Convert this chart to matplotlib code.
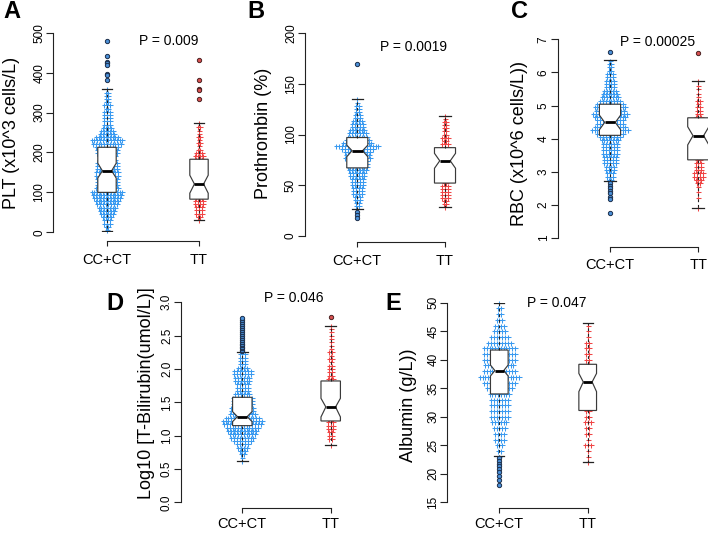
import matplotlib
matplotlib.use('Agg')
import matplotlib.pyplot as plt
import numpy as np

plt.rcParams['font.family'] = ['Liberation Sans', 'DejaVu Sans']

# ---------------- DATA ----------------
groups = ['CC+CT', 'TT']

# Panel A: PLT
A_ylabel = 'PLT (x10^3 cells/L)'
A_p = 'P = 0.009'
A_ticks = [0, 100, 200, 300, 400, 500]
A_ticklabels = ['0', '100', '200', '300', '400', '500']
A_rows_cc = [6, 14, 22, 30, 38, 46, 54, 62, 70, 78, 86, 94, 102, 110, 118, 126, 134, 142, 150, 158,
             166, 174, 182, 190, 198, 206, 214, 222, 230, 238, 246, 254, 262, 270, 278, 286, 294, 302,
             310, 318, 326, 334, 342, 350, 358]
A_cnt_cc = [1, 2, 3, 3, 4, 5, 6, 7, 8, 9, 10, 11, 12, 9, 8, 8, 8, 9, 9, 8,
            8, 8, 7, 7, 8, 8, 9, 11, 12, 9, 6, 5, 4, 3, 3, 3, 3, 3,
            2, 3, 2, 2, 2, 2, 1]
A_rows_tt = [31, 39, 47, 55, 63, 71, 79, 87, 95, 103, 111, 119, 127, 135, 143, 151, 159, 167, 175, 183,
             191, 199, 207, 215, 223, 231, 239, 247, 255, 263, 273]
A_cnt_tt = [1, 2, 3, 3, 3, 4, 4, 3, 2, 2, 2, 2, 2, 2, 2, 2, 2, 2, 3, 3,
            4, 3, 2, 1, 2, 1, 2, 1, 1, 2, 1]
A_box_cc = [4, 100, 154, 213, 358]      # whislo, q1, median, q3, whishi
A_notch_cc = [136, 173]
A_box_tt = [31, 83, 121, 183, 273]
A_notch_tt = [98, 143]
A_out_cc = [478, 441, 426, 423, 420, 397, 393, 381]
A_out_tt = [432, 381, 360, 356, 335]

# Panel B: Prothrombin
B_ylabel = 'Prothrombin (%)'
B_p = 'P = 0.0019'
B_ticks = [0, 50, 100, 150, 200]
B_ticklabels = ['0', '50', '100', '150', '200']
B_rows_cc = [26, 29, 32, 35, 38, 41, 44, 47, 50, 53, 56, 59, 62, 65, 68, 71, 74, 77, 80, 83,
             86, 89, 92, 95, 98, 101, 104, 107, 110, 113, 116, 119, 122, 125, 128, 131, 135]
B_cnt_cc = [1, 2, 2, 3, 3, 4, 4, 4, 5, 5, 5, 6, 6, 7, 8, 8, 8, 10, 9, 10,
            12, 16, 11, 9, 8, 7, 6, 5, 5, 4, 3, 3, 2, 2, 2, 1, 1]
B_rows_tt = [28, 31, 34, 37, 40, 43, 46, 49, 52, 55, 58, 61, 64, 67, 70, 73, 76, 79, 82, 85,
             88, 91, 94, 97, 100, 103, 106, 109, 112, 115, 118]
B_cnt_tt = [1, 2, 2, 3, 3, 3, 3, 3, 2, 2, 2, 2, 2, 2, 2, 2, 2, 2, 2, 2,
            3, 3, 2, 3, 2, 2, 2, 2, 2, 1, 1]
B_box_cc = [26, 67, 84, 97, 135]
B_notch_cc = [78, 89.5]
B_box_tt = [28, 52, 74, 87, 118]
B_notch_tt = [66.6, 81.4]
B_out_cc = [170, 23.7, 20.5, 17]
B_out_tt = []

# Panel C: RBC
C_ylabel = 'RBC (x10^6 cells/L))'
C_p = 'P = 0.00025'
C_ticks = [1, 2, 3, 4, 5, 6, 7]
C_ticklabels = ['1', '2', '3', '4', '5', '6', '7']
C_rows_cc = [2.75, 2.85, 2.95, 3.05, 3.15, 3.25, 3.35, 3.45, 3.55, 3.65,
             3.75, 3.85, 3.95, 4.05, 4.15, 4.25, 4.35, 4.45, 4.55, 4.65,
             4.75, 4.85, 4.95, 5.05, 5.15, 5.25, 5.35, 5.45, 5.55, 5.65,
             5.75, 5.85, 5.95, 6.05, 6.15, 6.25, 6.35]
C_cnt_cc = [2, 3, 3, 4, 4, 5, 5, 5, 6, 6,
            6, 6, 7, 8, 10, 14, 12, 10, 10, 12,
            13, 11, 12, 10, 8, 7, 6, 5, 4, 4,
            4, 3, 3, 2, 2, 2, 1]
C_rows_tt = [1.9, 2.2, 2.4, 2.55, 2.65, 2.75, 2.85, 2.95, 3.05, 3.15,
             3.25, 3.35, 3.45, 3.55, 3.65, 3.75, 3.85, 3.95, 4.05, 4.15,
             4.25, 4.35, 4.45, 4.55, 4.65, 4.75, 4.85, 4.95, 5.05, 5.15,
             5.25, 5.35, 5.5, 5.6, 5.74]
C_cnt_tt = [1, 1, 1, 1, 2, 3, 4, 4, 3, 3,
            3, 2, 2, 2, 2, 2, 2, 2, 2, 2,
            2, 2, 2, 2, 3, 2, 2, 2, 1, 2,
            1, 1, 1, 1, 1]
C_box_cc = [2.72, 4.10, 4.49, 5.04, 6.37]
C_notch_cc = [4.27, 4.71]
C_box_tt = [1.90, 3.36, 4.09, 4.63, 5.74]
C_notch_tt = [3.81, 4.36]
C_out_cc = [6.63, 2.67, 2.58, 2.50, 2.42, 2.35, 2.25, 2.17, 1.75]
C_out_tt = [6.58]

# Panel D: log10 T-Bilirubin
D_ylabel = 'Log10 [T-Bilirubin(umol/L)]'
D_p = 'P = 0.046'
D_ticks = [0.0, 0.5, 1.0, 1.5, 2.0, 2.5, 3.0]
D_ticklabels = ['0.0', '0.5', '1.0', '1.5', '2.0', '2.5', '3.0']
D_rows_cc = [0.62, 0.67, 0.72, 0.77, 0.82, 0.87, 0.92, 0.97, 1.02, 1.07,
             1.12, 1.17, 1.22, 1.27, 1.32, 1.37, 1.42, 1.47, 1.52, 1.57,
             1.62, 1.67, 1.72, 1.77, 1.82, 1.87, 1.92, 1.97, 2.02, 2.07,
             2.12, 2.17, 2.22]
D_cnt_cc = [1, 1, 2, 3, 4, 5, 7, 9, 10, 11,
            12, 14, 15, 13, 10, 9, 9, 8, 8, 8,
            6, 5, 5, 5, 6, 6, 7, 7, 4, 3,
            3, 3, 3]
D_rows_tt = [0.86, 0.95, 1.0, 1.05, 1.1, 1.15, 1.2, 1.25, 1.3, 1.35,
             1.4, 1.45, 1.5, 1.55, 1.6, 1.65, 1.7, 1.75, 1.8, 1.85,
             1.9, 1.95, 2.0, 2.05, 2.1, 2.15, 2.2, 2.25, 2.3, 2.35,
             2.4, 2.45, 2.5, 2.55, 2.6, 2.65]
D_cnt_tt = [1, 2, 2, 2, 3, 3, 3, 2, 2, 2,
            2, 2, 2, 2, 2, 2, 2, 2, 2, 3,
            2, 2, 2, 2, 1, 2, 1, 2, 1, 1,
            1, 1, 1, 1, 1, 1]
D_box_cc = [0.62, 1.15, 1.285, 1.575, 2.25]
D_notch_cc = [1.21, 1.36]
D_box_tt = [0.86, 1.22, 1.43, 1.82, 2.65]
D_notch_tt = [1.28, 1.56]
D_out_cc = [2.27, 2.29, 2.31, 2.33, 2.36, 2.38, 2.41, 2.44, 2.47, 2.50,
            2.53, 2.56, 2.59, 2.62, 2.65, 2.68, 2.71, 2.74, 2.76]
D_out_tt = [2.775]

# Panel E: Albumin
E_ylabel = 'Albumin (g/L))'
E_p = 'P = 0.047'
E_ticks = [15, 20, 25, 30, 35, 40, 45, 50]
E_ticklabels = ['15', '20', '25', '30', '35', '40', '45', '50']
E_rows_cc = [23, 24, 25, 26, 27, 28, 29, 30, 31, 32,
             33, 34, 35, 36, 37, 38, 39, 40, 41, 42,
             43, 44, 45, 46, 47, 48, 49, 50]
E_cnt_cc = [1, 2, 3, 4, 4, 5, 6, 7, 7, 7,
            7, 8, 10, 12, 15, 12, 11, 12, 12, 12,
            9, 7, 5, 4, 3, 2, 2, 1]
E_rows_tt = [22, 23, 24, 25, 26, 27, 28, 29, 30, 31,
             32, 33, 34, 35, 36, 37, 38, 39, 40, 41,
             42, 43, 44, 45, 46]
E_cnt_tt = [1, 1, 1, 3, 1, 2, 2, 3, 2, 2,
            2, 2, 2, 2, 2, 2, 2, 2, 2, 2,
            2, 2, 1, 1, 1]
E_box_cc = [23.1, 34.0, 38.1, 41.7, 50.0]
E_notch_cc = [37.15, 39.07]
E_box_tt = [22.0, 31.1, 36.1, 39.2, 46.4]
E_notch_tt = [34.4, 37.6]
E_out_cc = [22.7, 22.2, 21.8, 21.4, 20.8, 20.4, 19.6, 18.9, 18.0]
E_out_tt = []

# ---------------- LAYOUT (pixels) ----------------
W, H = 708, 533
layout = {
    'A': dict(axx=53.3, g1=107.0, g2=199.0, ylo=232.3, yhi=32.7, brk=241.0, xpad=4.8,
              p=(169, 41), lab=(12, 133), let=(11.5, 11.5), w=0.20),
    'B': dict(axx=305.0, g1=357.3, g2=445.0, ylo=235.7, yhi=33.3, brk=242.0, xpad=4.8,
              p=(413, 47), lab=(263, 133), let=(256, 11.5), w=0.24),
    'C': dict(axx=557.7, g1=610.0, g2=698.3, ylo=238.0, yhi=39.3, brk=246.7, xpad=4.8,
              p=(658, 42.3), lab=(520, 143), let=(520, 11.5), w=0.24),
    'D': dict(axx=181.0, g1=242.3, g2=330.7, ylo=502.3, yhi=302.3, brk=508.0, xpad=3.0,
              p=(293.3, 297.7), lab=(146.7, 393), let=(114.5, 303.5), w=0.22),
    'E': dict(axx=447.3, g1=499.3, g2=587.7, ylo=502.3, yhi=302.7, brk=508.0, xpad=3.0,
              p=(556.7, 303.3), lab=(408.3, 405), let=(393.5, 303.5), w=0.20),
}

panels = {
    'A': dict(ylabel=A_ylabel, p=A_p, ticks=A_ticks, tl=A_ticklabels,
              rows=[A_rows_cc, A_rows_tt], cnt=[A_cnt_cc, A_cnt_tt],
              box=[A_box_cc, A_box_tt], notch=[A_notch_cc, A_notch_tt], out=[A_out_cc, A_out_tt]),
    'B': dict(ylabel=B_ylabel, p=B_p, ticks=B_ticks, tl=B_ticklabels,
              rows=[B_rows_cc, B_rows_tt], cnt=[B_cnt_cc, B_cnt_tt],
              box=[B_box_cc, B_box_tt], notch=[B_notch_cc, B_notch_tt], out=[B_out_cc, B_out_tt]),
    'C': dict(ylabel=C_ylabel, p=C_p, ticks=C_ticks, tl=C_ticklabels,
              rows=[C_rows_cc, C_rows_tt], cnt=[C_cnt_cc, C_cnt_tt],
              box=[C_box_cc, C_box_tt], notch=[C_notch_cc, C_notch_tt], out=[C_out_cc, C_out_tt]),
    'D': dict(ylabel=D_ylabel, p=D_p, ticks=D_ticks, tl=D_ticklabels,
              rows=[D_rows_cc, D_rows_tt], cnt=[D_cnt_cc, D_cnt_tt],
              box=[D_box_cc, D_box_tt], notch=[D_notch_cc, D_notch_tt], out=[D_out_cc, D_out_tt]),
    'E': dict(ylabel=E_ylabel, p=E_p, ticks=E_ticks, tl=E_ticklabels,
              rows=[E_rows_cc, E_rows_tt], cnt=[E_cnt_cc, E_cnt_tt],
              box=[E_box_cc, E_box_tt], notch=[E_notch_cc, E_notch_tt], out=[E_out_cc, E_out_tt]),
}

pt_colors = ['#3A9AF0', '#F04545']
out_face = ['#4A90D8', '#D85050']
out_edge = ['#1C2E4A', '#4A2222']
DX_PX = 2.8  # horizontal spacing of swarm points in pixels

fig = plt.figure(figsize=(W / 100, H / 100), dpi=100)


def fx(px):
    return px / W


def fy(py):
    return 1 - py / H


for key in ['A', 'B', 'C', 'D', 'E']:
    L = layout[key]
    P = panels[key]
    unit = L['g2'] - L['g1']
    right_px = L['g2'] + 0.5 * unit
    ax = fig.add_axes([fx(L['axx']), fy(L['ylo']), (right_px - L['axx']) / W, (L['ylo'] - L['yhi']) / H])
    ax.set_xlim(1 + (L['axx'] - L['g1']) / unit, 2.5)
    ax.set_ylim(P['ticks'][0], P['ticks'][-1])
    ax.patch.set_alpha(0)
    for s in ['top', 'right']:
        ax.spines[s].set_visible(False)
    ax.spines['left'].set_bounds(P['ticks'][0], P['ticks'][-1])
    ax.spines['left'].set_linewidth(0.8)
    ax.spines['left'].set_color('#222222')
    off_pt = (L['brk'] - L['ylo']) * 0.72
    ax.spines['bottom'].set_position(('outward', off_pt))
    ax.spines['bottom'].set_bounds(1, 2)
    ax.spines['bottom'].set_linewidth(0.8)
    ax.spines['bottom'].set_color('#222222')

    ax.set_yticks(P['ticks'])
    ax.set_yticklabels(P['tl'])
    ax.tick_params(axis='y', direction='out', length=5, width=0.8, color='#222222',
                   labelsize=8.5, pad=0.8, labelrotation=90)
    for t in ax.get_yticklabels():
        t.set_va('center')
    ax.set_xticks([1, 2])
    ax.set_xticklabels(groups)
    ax.tick_params(axis='x', direction='out', length=3.6, width=0.8, color='#222222',
                   labelsize=10.5, pad=L['xpad'])

    dxu = DX_PX / unit
    for gi in range(2):
        pos = gi + 1
        xs, ys = [], []
        for v, n in zip(P['rows'][gi], P['cnt'][gi]):
            offs = (np.arange(n) - (n - 1) / 2.0) * dxu
            xs.extend(pos + offs)
            ys.extend([v] * n)
        ax.plot(xs, ys, linestyle='none', marker='+', ms=3.6, mew=0.75,
                color=pt_colors[gi], zorder=2, clip_on=False)

    stats = []
    for gi in range(2):
        b = P['box'][gi]
        nlo, nhi = P['notch'][gi]
        stats.append(dict(whislo=b[0], q1=b[1], med=b[2], q3=b[3], whishi=b[4],
                          cilo=nlo, cihi=nhi, fliers=[]))
    ax.bxp(stats, positions=[1, 2], widths=L['w'], capwidths=L['w'] * 0.55,
           shownotches=True, patch_artist=True, showfliers=False,
           boxprops=dict(facecolor='white', edgecolor='#3a3a3a', linewidth=0.85),
           medianprops=dict(color='black', linewidth=2.0),
           whiskerprops=dict(color='#222222', linewidth=0.8, linestyle=(0, (2.5, 2.5))),
           capprops=dict(color='#222222', linewidth=0.9),
           zorder=3, manage_ticks=False)

    for gi in range(2):
        o = P['out'][gi]
        if len(o):
            ax.plot([gi + 1] * len(o), o, linestyle='none', marker='o', ms=3.1, mew=0.7,
                    mfc=out_face[gi], mec=out_edge[gi], zorder=4, clip_on=False)

    ax.set_ylabel(P['ylabel'], fontsize=13)
    ax.yaxis.set_label_coords((L['lab'][0] - L['axx']) / (right_px - L['axx']),
                              (L['ylo'] - L['lab'][1]) / (L['ylo'] - L['yhi']))
    ax.yaxis.label.set_va('center')

    fig.text(fx(L['p'][0]), fy(L['p'][1]), P['p'], fontsize=10, ha='center', va='center')
    fig.text(fx(L['let'][0]), fy(L['let'][1]), key, fontsize=17, fontweight='bold',
             ha='center', va='center')

fig.savefig('out.png', dpi=100)
